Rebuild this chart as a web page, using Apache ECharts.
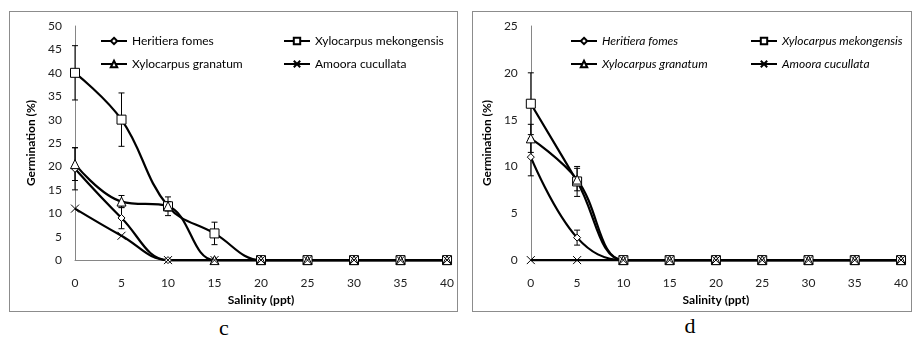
<!DOCTYPE html>
<html>
<head>
<meta charset="utf-8">
<script src="https://cdn.jsdelivr.net/npm/echarts@6/dist/echarts.min.js"></script>
<style>
  body { margin: 0; background: #fff; width: 912px; height: 339px; position: relative; overflow: hidden; }
  .panel { position: absolute; top: 11px; height: 301px; box-sizing: border-box; border: 1px solid #8c8c8c; }
  .cap { position: absolute; font-family: "Liberation Serif", serif; font-size: 22px; color: #000; transform: translate(-50%, -50%); }
</style>
</head>
<body>
<div id="chartC" class="panel" style="left:9px;width:449px"></div>
<div id="chartD" class="panel" style="left:472px;width:440px"></div>
<div class="cap" style="left:224px;top:328px">c</div>
<div class="cap" style="left:690px;top:326px">d</div>
<script>
// salinity levels (ppt)
const salinity = [0, 5, 10, 15, 20, 25, 30, 35, 40]
const seriesNames = ['Heritiera fomes', 'Xylocarpus mekongensis', 'Xylocarpus granatum', 'Amoora cucullata']

// panel c — germination (%) and error
const cHeritiera = [19.5, 9, 0, 0, 0, 0, 0, 0, 0]
const cHeritieraErr = [4.5, 2.3, 0, 0, 0, 0, 0, 0, 0]
const cMekong = [40, 30, 11.5, 5.7, 0, 0, 0, 0, 0]
const cMekongErr = [5.8, 5.7, 2, 2.4, 0, 0, 0, 0, 0]
const cGranatum = [20.5, 12.5, 11.5, 0, 0, 0, 0, 0, 0]
const cGranatumErr = [3.5, 1.3, 1, 0, 0, 0, 0, 0, 0]
const cAmoora = [11, 5.2, 0, 0, 0, 0, 0, 0, 0]

// panel d
const dHeritiera = [11, 2.4, 0, 0, 0, 0, 0, 0, 0]
const dHeritieraErr = [2, 0.8, 0, 0, 0, 0, 0, 0, 0]
const dMekong = [16.7, 8.4, 0, 0, 0, 0, 0, 0, 0]
const dMekongErr = [3.3, 1.6, 0, 0, 0, 0, 0, 0, 0]
const dGranatum = [13, 8.6, 0, 0, 0, 0, 0, 0, 0]
const dGranatumErr = [1.5, 1.2, 0, 0, 0, 0, 0, 0, 0]
const dAmoora = [0, 0, 0, 0, 0, 0, 0, 0, 0]

const FONT = 'Lato'
const symbols = {
  'Heritiera fomes': { symbol: 'diamond', size: 7 },
  'Xylocarpus mekongensis': { symbol: 'rect', size: 9 },
  'Xylocarpus granatum': { symbol: 'triangle', size: 9 },
  'Amoora cucullata': { symbol: 'path://M0,0L10,10M0,10L10,0', size: 8 }
}

function pairs(vals) {
  return salinity.map((x, i) => [x, vals[i]])
}

function errData(vals, errs) {
  const out = []
  salinity.forEach((x, i) => {
    if (errs[i] > 0) out.push([x, Math.max(0, vals[i] - errs[i]), vals[i] + errs[i]])
  })
  return out
}

function renderErr(params, api) {
  const x = api.value(0)
  const top = api.coord([x, api.value(2)])
  const bot = api.coord([x, api.value(1)])
  const w = 3
  const st = { stroke: '#000', lineWidth: 1 }
  return {
    type: 'group',
    children: [
      { type: 'line', shape: { x1: top[0], y1: top[1], x2: bot[0], y2: bot[1] }, style: st },
      { type: 'line', shape: { x1: top[0] - w, y1: top[1], x2: top[0] + w, y2: top[1] }, style: st },
      { type: 'line', shape: { x1: bot[0] - w, y1: bot[1], x2: bot[0] + w, y2: bot[1] }, style: st }
    ]
  }
}

function lineSeries(name, vals) {
  return {
    name: name,
    type: 'line',
    data: pairs(vals),
    smooth: 0.4,
    clip: false,
    symbol: symbols[name].symbol,
    symbolSize: symbols[name].size,
    showAllSymbol: true,
    lineStyle: { color: '#000', width: 2.2 },
    itemStyle: { color: '#fff', borderColor: '#000', borderWidth: 1 },
    emphasis: { disabled: true },
    z: 3
  }
}

function errSeries(vals, errs) {
  return {
    type: 'custom',
    renderItem: renderErr,
    data: errData(vals, errs),
    clip: false,
    silent: true,
    z: 2
  }
}

function buildOption(cfg) {
  const legendText = { fontFamily: FONT, fontSize: 12, color: '#000', fontStyle: cfg.italic ? 'italic' : 'normal' }
  const legendBase = {
    orient: 'vertical', top: 23, itemWidth: 26, itemHeight: 8, itemGap: 11,
    textStyle: legendText, selectedMode: false, padding: 0
  }
  return {
    animation: false,
    grid: { left: cfg.left, right: cfg.right, top: 14, bottom: 42 },
    legend: [
      Object.assign({}, legendBase, { left: cfg.leg1, data: [seriesNames[0], seriesNames[2]] }),
      Object.assign({}, legendBase, { left: cfg.leg2, data: [seriesNames[1], seriesNames[3]] })
    ],
    xAxis: {
      type: 'value', min: 0, max: 40, interval: 5,
      name: 'Salinity (ppt)', nameLocation: 'middle', nameGap: 29,
      nameTextStyle: { fontFamily: FONT, fontSize: 12, fontWeight: 'bold', color: '#000' },
      axisLine: { lineStyle: { color: '#868686', width: 1 } },
      axisTick: { show: false },
      axisLabel: { fontFamily: FONT, fontSize: 12, color: '#222', margin: 17 },
      splitLine: { show: false }
    },
    yAxis: {
      type: 'value', min: 0, max: cfg.ymax, interval: 5,
      name: 'Germination (%)', nameLocation: 'middle', nameGap: cfg.nameGap,
      nameTextStyle: { fontFamily: FONT, fontSize: 12, fontWeight: 'bold', color: '#000' },
      axisLine: { show: true, lineStyle: { color: '#868686', width: 1 } },
      axisTick: { show: false },
      axisLabel: { fontFamily: FONT, fontSize: 12, color: '#222', margin: 13 },
      splitLine: { show: false }
    },
    series: [
      errSeries(cfg.data[0], cfg.errs[0]),
      errSeries(cfg.data[1], cfg.errs[1]),
      errSeries(cfg.data[2], cfg.errs[2]),
      lineSeries(seriesNames[0], cfg.data[0]),
      lineSeries(seriesNames[1], cfg.data[1]),
      lineSeries(seriesNames[2], cfg.data[2]),
      lineSeries(seriesNames[3], cfg.data[3])
    ]
  }
}

const chartC = echarts.init(document.getElementById('chartC'), null, { renderer: 'canvas' })
chartC.setOption(buildOption({
  left: 65, right: 7, ymax: 50, nameGap: 36, leg1: 90, leg2: 273, italic: false,
  data: [cHeritiera, cMekong, cGranatum, cAmoora],
  errs: [cHeritieraErr, cMekongErr, cGranatumErr]
}))

const chartD = echarts.init(document.getElementById('chartD'), null, { renderer: 'canvas' })
chartD.setOption(buildOption({
  left: 51, right: 8, ymax: 25, nameGap: 30, leg1: 97, leg2: 277, italic: true,
  data: [dHeritiera, dMekong, dGranatum, dAmoora],
  errs: [dHeritieraErr, dMekongErr, dGranatumErr]
}))
</script>
</body>
</html>
